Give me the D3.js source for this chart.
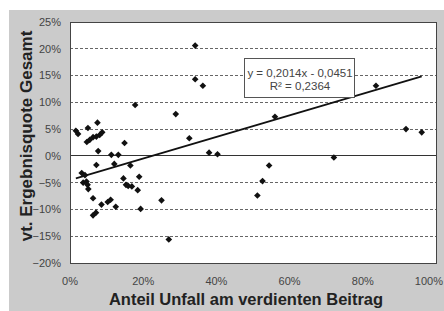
<!DOCTYPE html>
<html>
<head>
<meta charset="utf-8">
<script src="https://cdn.jsdelivr.net/npm/d3@7"></script>
<style>
  body { margin: 0; background: #fff; }
  text { font-family: "Liberation Sans", Arial, sans-serif; }
</style>
</head>
<body>
<script>
// Anteil Unfall (x) vs. vt. Ergebnisquote (y), both as fractions
const xValues = [
  0.016, 0.022, 0.049, 0.075, 0.046, 0.054, 0.063, 0.072, 0.081, 0.088,
  0.077, 0.113, 0.132, 0.149, 0.178, 0.289,
  0.072, 0.121, 0.165, 0.189, 0.032, 0.041, 0.036, 0.045, 0.048, 0.050,
  0.146, 0.153, 0.159, 0.169, 0.185, 0.063, 0.086, 0.103, 0.111, 0.125,
  0.063, 0.071, 0.193, 0.250, 0.270,
  0.342, 0.342, 0.363, 0.326, 0.380, 0.403, 0.560, 0.544, 0.526, 0.512,
  0.721, 0.836, 0.918, 0.961
];
const yValues = [
  0.047, 0.041, 0.052, 0.062, 0.026, 0.030, 0.035, 0.036, 0.039, 0.044,
  0.009, 0.002, 0.002, 0.024, 0.095, 0.078,
  -0.017, -0.015, -0.018, -0.039, -0.032, -0.036, -0.050, -0.048, -0.054, -0.062,
  -0.042, -0.054, -0.056, -0.057, -0.064, -0.079, -0.091, -0.086, -0.082, -0.095,
  -0.111, -0.106, -0.099, -0.083, -0.156,
  0.206, 0.143, 0.131, 0.033, 0.006, 0.003, 0.073, -0.018, -0.047, -0.074,
  -0.003, 0.131, 0.050, 0.044
];
const xTicks = [0, 0.2, 0.4, 0.6, 0.8, 1.0];
const yTicks = [-0.2, -0.15, -0.1, -0.05, 0, 0.05, 0.1, 0.15, 0.2, 0.25];
const slope = 0.2014;
const intercept = -0.0451;
const equationLines = ["y = 0,2014x - 0,0451", "R² = 0,2364"];
const xTitle = "Anteil Unfall am verdienten Beitrag";
const yTitle = "vt. Ergebnisquote Gesamt";

const width = 444, height = 311;
const plot = { left: 70, top: 22, right: 436, bottom: 263 };

const points = xValues.map((x, i) => ({ x: x, y: yValues[i] }));
const pct = (v) => d3.format(".0%")(v);

const svg = d3.select("body").append("svg")
  .attr("width", width)
  .attr("height", height);

// gray chart background
svg.append("rect")
  .attr("x", 9).attr("y", 10)
  .attr("width", 435).attr("height", 301)
  .attr("fill", "#cbcbcb");

const x = d3.scaleLinear().domain([0, 1]).range([plot.left, plot.right]);
const y = d3.scaleLinear().domain([-0.2, 0.25]).range([plot.bottom, plot.top]);

svg.append("rect")
  .attr("x", plot.left).attr("y", plot.top)
  .attr("width", plot.right - plot.left).attr("height", plot.bottom - plot.top)
  .attr("fill", "#fff");

// dashed grid lines
svg.append("g")
  .selectAll("line")
  .data(yTicks.filter((t) => t !== 0 && t !== 0.25 && t !== -0.2))
  .join("line")
  .attr("x1", plot.left).attr("x2", plot.right)
  .attr("y1", (d) => y(d)).attr("y2", (d) => y(d))
  .attr("stroke", "#666")
  .attr("stroke-width", 1)
  .attr("stroke-dasharray", "3,2")
  .attr("shape-rendering", "crispEdges");

// zero line
svg.append("line")
  .attr("x1", plot.left).attr("x2", plot.right)
  .attr("y1", y(0)).attr("y2", y(0))
  .attr("stroke", "#333")
  .attr("shape-rendering", "crispEdges");

// plot border
svg.append("rect")
  .attr("x", plot.left).attr("y", plot.top)
  .attr("width", plot.right - plot.left).attr("height", plot.bottom - plot.top)
  .attr("fill", "none")
  .attr("stroke", "#444")
  .attr("shape-rendering", "crispEdges");

// y axis labels
svg.append("g")
  .selectAll("text")
  .data(yTicks)
  .join("text")
  .attr("x", 61)
  .attr("y", (d) => y(d))
  .attr("dy", "0.35em")
  .attr("text-anchor", "end")
  .attr("font-size", 11)
  .attr("fill", "#444")
  .text(pct);

// x axis labels (last one kept inside the picture)
svg.append("g")
  .selectAll("text")
  .data(xTicks)
  .join("text")
  .attr("x", (d, i) => i === xTicks.length - 1 ? width - 1 : x(d))
  .attr("y", 285)
  .attr("text-anchor", (d, i) => i === xTicks.length - 1 ? "end" : "middle")
  .attr("font-size", 11)
  .attr("fill", "#444")
  .text(pct);

// axis titles
svg.append("text")
  .attr("x", 246)
  .attr("y", 305)
  .attr("text-anchor", "middle")
  .attr("font-size", 16.5)
  .attr("font-weight", "bold")
  .attr("fill", "#222")
  .text(xTitle);

svg.append("text")
  .attr("transform", "translate(32, 136) rotate(-90)")
  .attr("text-anchor", "middle")
  .attr("font-size", 17)
  .attr("font-weight", "bold")
  .attr("fill", "#222")
  .text(yTitle);

// linear trend line over the data's x range
const [xMin, xMax] = d3.extent(xValues);
svg.append("line")
  .attr("x1", x(xMin)).attr("y1", y(slope * xMin + intercept))
  .attr("x2", x(xMax)).attr("y2", y(slope * xMax + intercept))
  .attr("stroke", "#111")
  .attr("stroke-width", 1.8);

// diamond markers
const diamond = d3.symbol().type(d3.symbolSquare).size(22);
svg.append("g")
  .selectAll("path")
  .data(points)
  .join("path")
  .attr("transform", (d) => `translate(${x(d.x)},${y(d.y)}) rotate(45)`)
  .attr("d", diamond)
  .attr("fill", "#111");

// equation box
svg.append("rect")
  .attr("x", 244.5).attr("y", 58.5)
  .attr("width", 110).attr("height", 39)
  .attr("fill", "#fff")
  .attr("stroke", "#555");

svg.append("g")
  .selectAll("text")
  .data(equationLines)
  .join("text")
  .attr("x", 300)
  .attr("y", (d, i) => 77 + i * 12.5)
  .attr("text-anchor", "middle")
  .attr("font-size", 11.5)
  .attr("fill", "#444")
  .text((d) => d);
</script>
</body>
</html>
